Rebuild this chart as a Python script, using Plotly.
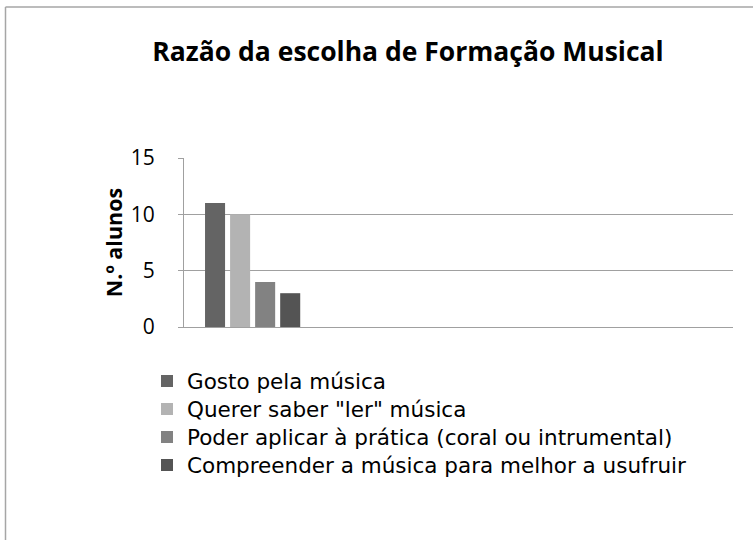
import plotly.graph_objects as go

series = ["Gosto pela música", "Querer saber \"ler\" música",
          "Poder aplicar à prática (coral ou intrumental)",
          "Compreender a música para melhor a usufruir"]
values = [11, 10, 4, 3]
colors = ["#646464", "#b3b3b3", "#828282", "#545454"]
categories = ["c1", "c2", "c3", "c4"]
y_ticks = [0, 5, 10, 15]

L, R, T, B = 184, 20, 158, 213
W, H = 753, 540
pw, ph = W - L - R, H - T - B

def px_x(p):
    return (p - L) / pw

def px_y(p):
    return (H - B - p) / ph

FONT = "Open Sans, Noto Sans, sans-serif"
LEG_FONT = "DejaVu Sans, Open Sans, sans-serif"
LEG_FIRST, LEG_STEP = 381, 28

fig = go.Figure()
legend_layouts = {}
for i, (name, v, c) in enumerate(zip(series, values, colors)):
    key = "legend" if i == 0 else f"legend{i + 1}"
    fig.add_trace(go.Bar(x=[categories[0]], y=[v], name=name, legend=key,
                         marker=dict(color=c, line=dict(width=0))))
    legend_layouts[key] = dict(
        orientation="v", x=px_x(147), xanchor="left",
        y=px_y(LEG_FIRST + LEG_STEP * i), yanchor="middle",
        font=dict(size=21.5, family=LEG_FONT, color="#000000"),
        itemwidth=30, bgcolor="rgba(0,0,0,0)", borderwidth=0)

fig.update_layout(
    width=W, height=H,
    margin=dict(l=L, r=R, t=T, b=B),
    paper_bgcolor="white", plot_bgcolor="white",
    barmode="group", bargap=0.27, bargroupgap=0.2,
    font=dict(family=FONT, color="#000000"),
    title=dict(text="<b>Razão da escolha de Formação Musical</b>",
               x=408 / W, xanchor="center", y=1 - 52 / H, yanchor="middle",
               font=dict(size=26.5, color="#000000", family=FONT)),
    showlegend=True,
    xaxis=dict(type="category", categoryorder="array", categoryarray=categories,
               range=[-0.5, 3.5], showticklabels=False, showgrid=False,
               showline=True, linecolor="#a0a0a0", linewidth=1, ticks="",
               zeroline=False, fixedrange=True),
    yaxis=dict(range=[0, 15], tickvals=y_ticks, ticktext=[str(t) for t in y_ticks],
               showgrid=True, gridcolor="#a0a0a0", gridwidth=1,
               showline=True, linecolor="#a0a0a0", linewidth=1,
               ticks="outside", ticklen=5, tickcolor="#a0a0a0",
               ticklabelstandoff=19,
               tickfont=dict(size=21, family=FONT), zeroline=False,
               title=dict(text="<b>N.º alunos</b>", font=dict(size=21.5, family=FONT),
                          standoff=2)),
    shapes=[
        dict(type="line", xref="paper", yref="paper",
             x0=px_x(5.5), x1=px_x(5.5), y0=px_y(7), y1=px_y(560),
             line=dict(color="#a6a6a6", width=1.5)),
        dict(type="line", xref="paper", yref="paper",
             x0=px_x(5.5), x1=px_x(780), y0=px_y(7), y1=px_y(7),
             line=dict(color="#a6a6a6", width=1.5)),
    ],
)
fig.update_layout(**legend_layouts)

fig.write_html("out.html", config={"displayModeBar": False},
               post_script="document.body.style.margin='0';document.body.style.padding='0';")
